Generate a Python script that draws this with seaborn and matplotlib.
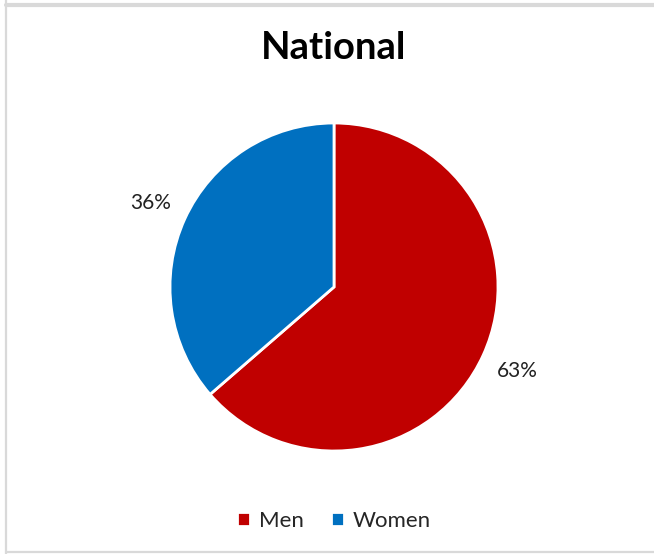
import matplotlib
matplotlib.use("Agg")
import matplotlib.pyplot as plt
from matplotlib.lines import Line2D
import seaborn as sns

# data
labels = ["Men", "Women"]
values = [63, 36]
colors = ["#C00000", "#0070C0"]

sns.set_style("white")
plt.rcParams['font.family'] = ['Lato', 'DejaVu Sans']

W, H = 654, 554
fig = plt.figure(figsize=(W / 100, H / 100), dpi=100)

# pie axes: center (334, 287) px, radius 164 px
cx, cy, r = 334, 287, 164
ax = fig.add_axes([(cx - r) / W, (H - cy - r) / H, 2 * r / W, 2 * r / H])

total = sum(values)
wedges, texts, autotexts = ax.pie(
    values, colors=colors, startangle=90, counterclock=False,
    autopct=lambda p: f"{p * total / 100:.0f}%", pctdistance=1.23,
    wedgeprops=dict(edgecolor="white", linewidth=2),
    textprops=dict(fontsize=15, color="#222222"),
)
ax.set_xlim(-1, 1)
ax.set_ylim(-1, 1)
ax.set_aspect("equal")

fig.text(cx / W, 1 - 48 / H, "National", ha="center", va="center",
         fontsize=27.5, fontweight="bold", color="black")

fig.legend(wedges, labels, loc="center", bbox_to_anchor=(cx / W, 1 - 521 / H),
           ncol=2, frameon=False, fontsize=16, handlelength=0.6, handleheight=0.6,
           handletextpad=0.4, columnspacing=1.2)

# chart border
grey = "#D9D9D9"
fig.add_artist(Line2D([6 / W, 6 / W], [0, 1], color=grey, lw=1.6))
fig.add_artist(Line2D([6 / W, 1], [1 - 5 / H, 1 - 5 / H], color=grey, lw=3))
fig.add_artist(Line2D([6 / W, 1], [2 / H, 2 / H], color=grey, lw=1.6))

fig.savefig("out.png", dpi=100)
